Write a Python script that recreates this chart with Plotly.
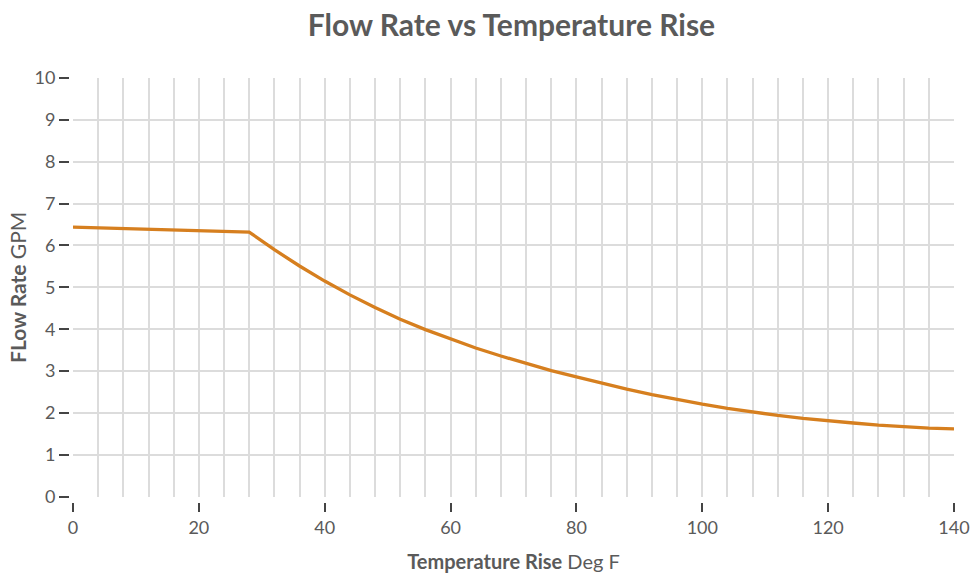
import plotly.graph_objects as go

temp_rise = [0, 28, 32, 36, 40, 44, 48, 52, 56, 60, 64, 68, 72, 76, 80, 84, 88,
             92, 96, 100, 104, 108, 112, 116, 120, 124, 128, 132, 136, 140]
flow_rate = [6.44, 6.32, 5.90, 5.51, 5.15, 4.82, 4.52, 4.24, 3.99, 3.76, 3.55, 3.36,
             3.18, 3.01, 2.86, 2.71, 2.57, 2.44, 2.32, 2.21, 2.11, 2.02, 1.94, 1.87,
             1.81, 1.76, 1.71, 1.67, 1.64, 1.62]

FONT = "Lato"
GRID = "#dcdcdc"
TXT = "#5a5a5a"

fig = go.Figure()
fig.add_trace(go.Scatter(x=temp_rise, y=flow_rate, mode="lines",
                         line=dict(color="#d67f1f", width=3.3), hoverinfo="skip"))

W, H = 980, 579
ml, mr, mt, mb = 69, 26, 78, 77
pw = W - ml - mr
ph = H - mt - mb

fig.update_layout(
    width=W, height=H,
    margin=dict(l=ml, r=mr, t=mt, b=mb, autoexpand=False),
    paper_bgcolor="white", plot_bgcolor="white",
    showlegend=False,
    font=dict(family=FONT, color=TXT, size=18),
    title=dict(text="<b>Flow Rate vs Temperature Rise</b>", x=0.5, xref="paper",
               y=1 - 25 / H, yref="container", xanchor="center", yanchor="middle",
               font=dict(family=FONT, size=30, color=TXT)),
    xaxis=dict(range=[0, 140], domain=[4 / pw, 1], anchor="free", position=0,
               automargin=False,
               dtick=20, tick0=0, ticks="outside", ticklen=9, tickwidth=1.5,
               tickcolor="#444", showgrid=True, gridcolor=GRID, gridwidth=1.5,
               minor=dict(dtick=4, tick0=0, showgrid=True, gridcolor=GRID, gridwidth=1.5, ticks=""),
               zeroline=False, showline=False,
               tickfont=dict(size=18, color=TXT),
               title=dict(text="<b>Temperature Rise</b> Deg F", font=dict(size=20, color=TXT), standoff=18)),
    yaxis=dict(range=[0, 10], domain=[5.3 / ph, 1], anchor="free", position=0,
               automargin=False,
               dtick=1, tick0=0, ticks="outside", ticklen=10, tickwidth=1.5,
               tickcolor="#444", showgrid=True, gridcolor=GRID, gridwidth=1.5,
               zeroline=False, showline=False,
               tickfont=dict(size=18, color=TXT),
               title=dict(text="<b>FLow Rate</b> GPM", font=dict(size=21, color=TXT), standoff=1)),
)

fig.write_html("out.html", config={"displayModeBar": False},
               post_script="document.body.style.margin='0';")
